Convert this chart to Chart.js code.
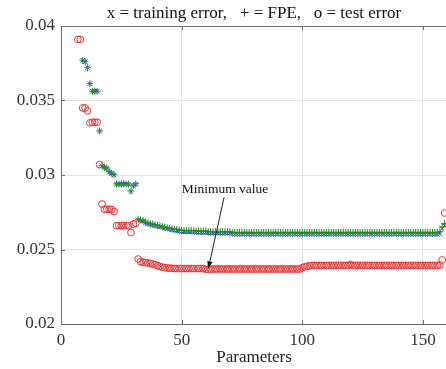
<!DOCTYPE html>
<html>
<head>
<meta charset="utf-8">
<script src="https://cdn.jsdelivr.net/npm/chart.js@4/dist/chart.umd.min.js"></script>
<style>
  html, body { margin: 0; padding: 0; overflow: hidden; background: #fff; }
  #wrap { position: relative; width: 452px; height: 369px; }
</style>
</head>
<body>
<div id="wrap"><canvas id="prune-chart"></canvas></div>
<script>
/* pruning.js */

// number of weights left in the network, one model per count
const firstParam = 7
const params = Array.from({ length: 153 }, (_, i) => firstParam + i)

// training error (x), one row per ten models
const trainErr = [
  null, null, 0.0377, 0.0376, 0.0372, 0.03613, 0.03562, 0.03562, 0.03562, 0.03295,
  0.0306, 0.0305, 0.03045, 0.0302, 0.0301, 0.03, 0.02938, 0.02938, 0.02938, 0.02938,
  0.02938, 0.02938, 0.0289, 0.02926, 0.02938, 0.027, 0.02695, 0.0269, 0.02678, 0.02672,
  0.02668, 0.02664, 0.0266, 0.02656, 0.02652, 0.02648, 0.02643, 0.0264, 0.02636, 0.02632,
  0.02628, 0.02625, 0.02622, 0.0262, 0.02618, 0.02618, 0.02618, 0.02618, 0.02618, 0.02614,
  0.02614, 0.02614, 0.02614, 0.02614, 0.0261, 0.0261, 0.0261, 0.0261, 0.0261, 0.0261,
  0.0261, 0.0261, 0.0261, 0.0261, 0.02602, 0.02602, 0.02602, 0.02602, 0.02602, 0.02602,
  0.02602, 0.02602, 0.02602, 0.02602, 0.02602, 0.02602, 0.02602, 0.02602, 0.02602, 0.02602,
  0.02602, 0.02602, 0.02602, 0.02602, 0.02602, 0.02602, 0.02602, 0.02602, 0.02602, 0.02602,
  0.02602, 0.02602, 0.02602, 0.02602, 0.02602, 0.02602, 0.02602, 0.02602, 0.02602, 0.02602,
  0.02602, 0.02602, 0.02602, 0.02602, 0.02602, 0.02602, 0.02602, 0.02602, 0.02602, 0.02602,
  0.02602, 0.02602, 0.02602, 0.02602, 0.02602, 0.02602, 0.02602, 0.02602, 0.02602, 0.02602,
  0.02602, 0.02602, 0.02602, 0.02602, 0.02602, 0.02602, 0.02602, 0.02602, 0.02602, 0.02602,
  0.02602, 0.02602, 0.02602, 0.02602, 0.02602, 0.02602, 0.02602, 0.02602, 0.02602, 0.02602,
  0.02602, 0.02602, 0.02602, 0.02602, 0.02602, 0.02602, 0.02602, 0.02602, 0.02602, 0.02602,
  0.02605, 0.0264, 0.0266
]

// final prediction error estimate (+)
const fpeErr = [
  null, null, 0.0377, 0.0376, 0.0372, 0.03613, 0.03562, 0.03562, 0.03562, 0.03296,
  0.03062, 0.03052, 0.03047, 0.03022, 0.03012, 0.03002, 0.0294, 0.0294, 0.0294, 0.0294,
  0.0294, 0.0294, 0.02893, 0.02929, 0.02941, 0.02704, 0.02699, 0.02694, 0.02683, 0.02677,
  0.02673, 0.0267, 0.02666, 0.02662, 0.02658, 0.02655, 0.0265, 0.02647, 0.02644, 0.0264,
  0.02637, 0.02634, 0.02631, 0.02629, 0.02627, 0.02627, 0.02627, 0.02627, 0.02627, 0.02624,
  0.02624, 0.02624, 0.02624, 0.02624, 0.0262, 0.0262, 0.0262, 0.0262, 0.0262, 0.0262,
  0.0262, 0.0262, 0.0262, 0.0262, 0.02615, 0.02615, 0.02615, 0.02615, 0.02615, 0.02615,
  0.02615, 0.02615, 0.02615, 0.02615, 0.02615, 0.02615, 0.02615, 0.02615, 0.02615, 0.02615,
  0.02615, 0.02615, 0.02615, 0.02615, 0.02615, 0.02615, 0.02615, 0.02615, 0.02615, 0.02615,
  0.02615, 0.02615, 0.02615, 0.02615, 0.02615, 0.02615, 0.02615, 0.02615, 0.02615, 0.02615,
  0.02615, 0.02615, 0.02615, 0.02615, 0.02615, 0.02615, 0.02615, 0.02615, 0.02615, 0.02615,
  0.02615, 0.02615, 0.02615, 0.02615, 0.02615, 0.02615, 0.02615, 0.02615, 0.02615, 0.02615,
  0.02615, 0.02615, 0.02615, 0.02615, 0.02615, 0.02615, 0.02615, 0.02615, 0.02615, 0.02615,
  0.02615, 0.02615, 0.02615, 0.02615, 0.02615, 0.02615, 0.02615, 0.02615, 0.02615, 0.02615,
  0.02615, 0.02615, 0.02615, 0.02615, 0.02615, 0.02615, 0.02615, 0.02615, 0.02615, 0.02615,
  0.0262, 0.02652, 0.02675
]

// error on the test set (o)
const testErr = [
  0.0391, 0.0391, 0.0345, 0.0345, 0.0343, 0.0335, 0.03354, 0.03354, 0.03354, 0.0307,
  0.02805, 0.0277, 0.0277, 0.0277, 0.02768, 0.02755, 0.0266, 0.0266, 0.0266, 0.0266,
  0.0266, 0.0266, 0.02614, 0.0267, 0.02676, 0.02436, 0.02418, 0.02415, 0.02412, 0.0241,
  0.02406, 0.02403, 0.02398, 0.02392, 0.02386, 0.02381, 0.02378, 0.02376, 0.02375, 0.02374,
  0.02372, 0.02372, 0.02372, 0.02372, 0.02372, 0.02372, 0.02372, 0.02372, 0.02372, 0.02372,
  0.02372, 0.02372, 0.02372, 0.02367, 0.02367, 0.02367, 0.02369, 0.02369, 0.02369, 0.02369,
  0.02369, 0.02369, 0.02369, 0.02369, 0.02369, 0.02369, 0.02369, 0.02369, 0.02369, 0.02369,
  0.02369, 0.02369, 0.02369, 0.02369, 0.02369, 0.02369, 0.02369, 0.02369, 0.02369, 0.02369,
  0.02369, 0.02369, 0.02369, 0.02369, 0.02369, 0.02369, 0.02369, 0.02369, 0.02369, 0.02369,
  0.02369, 0.02369, 0.02369, 0.02378, 0.02384, 0.02388, 0.0239, 0.02393, 0.02393, 0.02393,
  0.02393, 0.02393, 0.02393, 0.02393, 0.02393, 0.02393, 0.02393, 0.02393, 0.02393, 0.02393,
  0.02393, 0.02393, 0.02393, 0.02399, 0.02393, 0.02393, 0.02393, 0.02393, 0.02393, 0.02393,
  0.02393, 0.02393, 0.02393, 0.02393, 0.02393, 0.02393, 0.02393, 0.02393, 0.02393, 0.02393,
  0.02393, 0.02393, 0.02393, 0.02393, 0.02393, 0.02393, 0.02393, 0.02393, 0.02393, 0.02393,
  0.02393, 0.02393, 0.02393, 0.02393, 0.02393, 0.02393, 0.02393, 0.02393, 0.02393, 0.02393,
  0.02396, 0.0243, 0.02745
]

const xTicks = [0, 50, 100, 150]
const yTicks = [0.02, 0.025, 0.03, 0.035, 0.04]

const titleText = 'x = training error,   + = FPE,   o = test error'
const noteText = 'Minimum value'
const noteAt = { x: 68, y: 0.02905 }    // label centre, data units
const arrowFrom = { x: 67.6, y: 0.0285 } // arrow tail, data units

const SERIF = "'Liberation Serif', 'Times New Roman', serif"

const pts = arr => params.map((p, i) => ({ x: p, y: arr[i] })).filter(d => d.y !== null)

// title, top border, inward ticks and the "Minimum value" arrow
const decorations = {
  id: 'decorations',
  afterDraw(chart) {
    const { ctx, chartArea: a, scales: { x, y } } = chart
    ctx.save()

    ctx.strokeStyle = '#6e6e6e'
    ctx.lineWidth = 1
    ctx.beginPath()
    ctx.moveTo(a.left, a.top + 0.5)
    ctx.lineTo(a.right, a.top + 0.5)
    xTicks.slice(1).forEach(v => {
      const px = Math.round(x.getPixelForValue(v)) + 0.5
      ctx.moveTo(px, a.bottom); ctx.lineTo(px, a.bottom - 4)
      ctx.moveTo(px, a.top);    ctx.lineTo(px, a.top + 4)
    })
    yTicks.slice(1, -1).forEach(v => {
      const py = Math.round(y.getPixelForValue(v)) + 0.5
      ctx.moveTo(a.left, py); ctx.lineTo(a.left + 4, py)
    })
    ctx.stroke()

    ctx.fillStyle = '#111'
    ctx.font = `17px ${SERIF}`
    ctx.textAlign = 'center'
    ctx.textBaseline = 'middle'
    ctx.fillText(titleText, (a.left + a.right) / 2, 14)

    // arrow to the lowest test error
    const minVal = Math.min(...testErr)
    const minIdx = params.filter((p, i) => testErr[i] === minVal)
    const tipX = x.getPixelForValue(minIdx.reduce((s, v) => s + v, 0) / minIdx.length)
    const tipY = y.getPixelForValue(minVal)
    const tailX = x.getPixelForValue(arrowFrom.x)
    const tailY = y.getPixelForValue(arrowFrom.y)

    ctx.font = `13.5px ${SERIF}`
    ctx.fillText(noteText, x.getPixelForValue(noteAt.x), y.getPixelForValue(noteAt.y))

    const ang = Math.atan2(tipY - tailY, tipX - tailX)
    const hl = 8, hw = 2.6
    const bx = tipX - hl * Math.cos(ang), by = tipY - hl * Math.sin(ang)
    ctx.strokeStyle = '#222'
    ctx.beginPath()
    ctx.moveTo(tailX, tailY)
    ctx.lineTo(bx, by)
    ctx.stroke()
    ctx.fillStyle = '#111'
    ctx.beginPath()
    ctx.moveTo(tipX, tipY)
    ctx.lineTo(bx + hw * Math.sin(ang), by - hw * Math.cos(ang))
    ctx.lineTo(bx - hw * Math.sin(ang), by + hw * Math.cos(ang))
    ctx.closePath()
    ctx.fill()

    ctx.restore()
  }
}

new Chart(document.getElementById('prune-chart'), {
  type: 'scatter',
  data: {
    datasets: [
      {
        label: 'training error',
        data: pts(trainErr),
        pointStyle: 'crossRot',
        pointRadius: 3.2,
        borderColor: 'rgb(40,70,230)',
        borderWidth: 1,
        order: 3,
      },
      {
        label: 'FPE',
        data: pts(fpeErr),
        pointStyle: 'cross',
        pointRadius: 3.4,
        borderColor: 'rgb(30,140,30)',
        borderWidth: 1,
        order: 2,
      },
      {
        label: 'test error',
        data: pts(testErr),
        pointStyle: 'circle',
        pointRadius: 3.4,
        borderColor: 'rgb(240,50,50)',
        backgroundColor: 'rgba(0,0,0,0)',
        borderWidth: 1,
        order: 1,
      }
    ]
  },
  options: {
    responsive: true,
    maintainAspectRatio: false,
    animation: false,
    layout: { padding: { top: 26, right: 4, left: 0, bottom: 0 } },
    plugins: {
      legend: { display: false },
      tooltip: { enabled: false },
    },
    scales: {
      x: {
        type: 'linear',
        min: 0,
        max: 160,
        afterBuildTicks: s => { s.ticks = xTicks.map(v => ({ value: v })) },
        afterFit: s => { s.height = 45 },
        ticks: { padding: 6, color: '#333', font: { family: SERIF, size: 17 }, maxRotation: 0 },
        grid: { color: '#e3e3e3', drawTicks: false },
        border: { color: '#6e6e6e', width: 1 },
        title: {
          display: true,
          text: 'Parameters',
          color: '#222',
          font: { family: SERIF, size: 17 },
          padding: { top: 0, bottom: 1 },
        },
      },
      y: {
        min: 0.02,
        max: 0.04,
        afterBuildTicks: s => { s.ticks = yTicks.map(v => ({ value: v })) },
        afterFit: s => { s.width = 61 },
        ticks: {
          padding: 6,
          color: '#333',
          font: { family: SERIF, size: 17 },
          callback: v => String(+v.toFixed(3)),
        },
        grid: { color: '#e3e3e3', drawTicks: false },
        border: { color: '#6e6e6e', width: 1 },
      }
    }
  },
  plugins: [decorations]
})
</script>
</body>
</html>
